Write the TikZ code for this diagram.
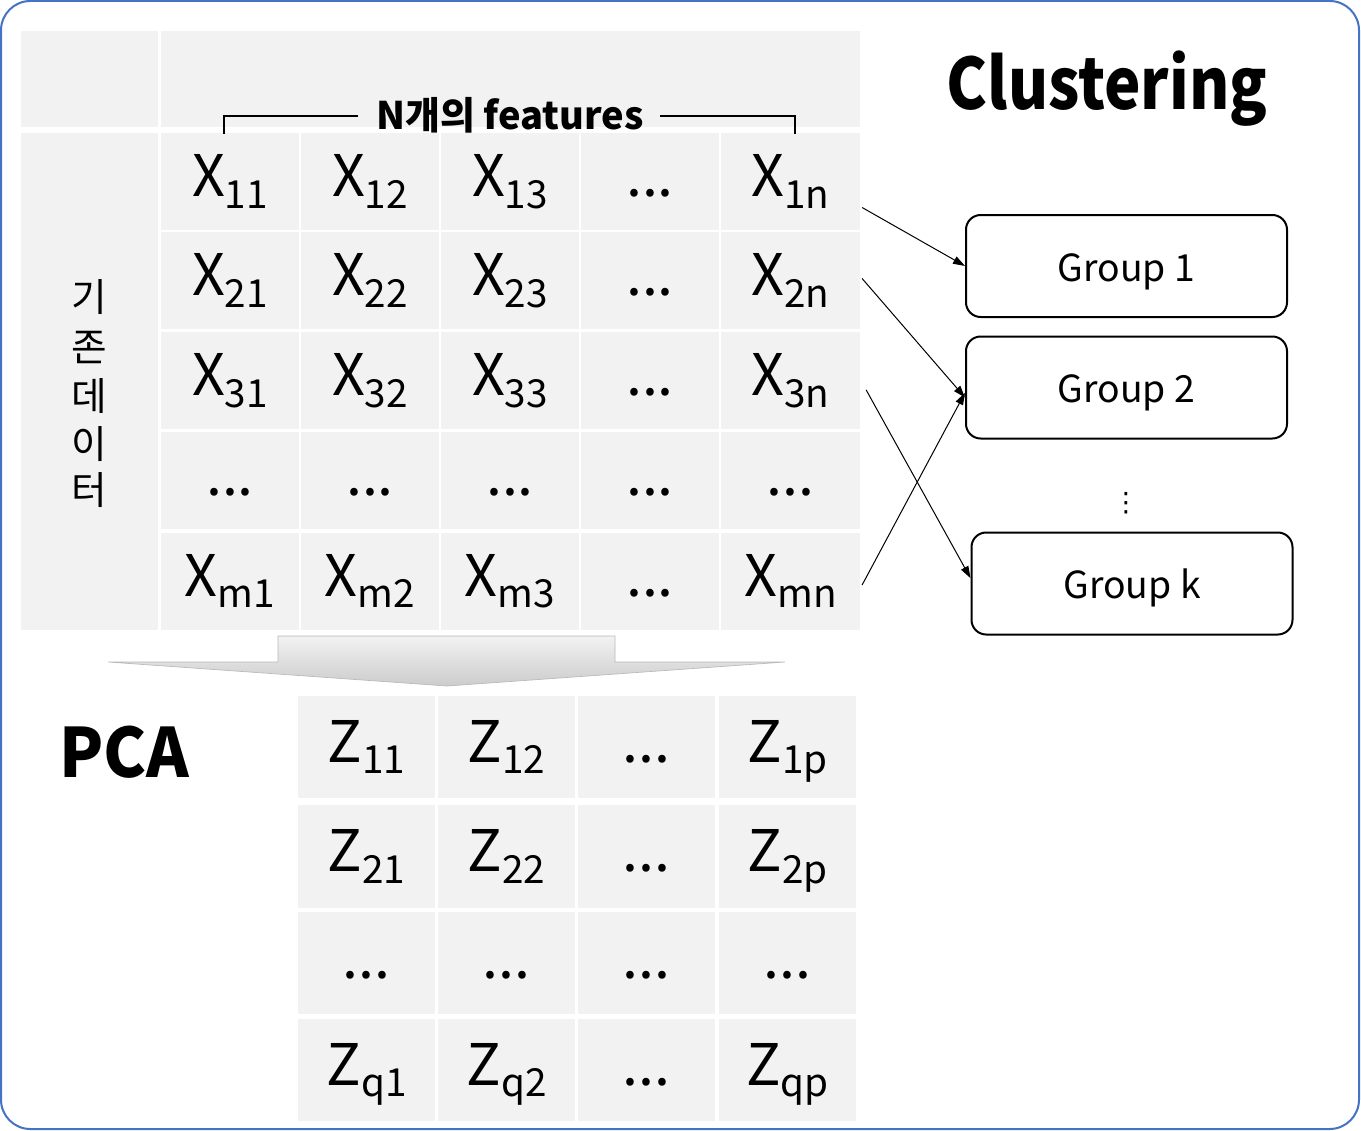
\documentclass[tikz,border=0pt]{standalone}
\usepackage{fontspec}
\setmainfont{Noto Sans CJK KR}
\newfontfamily\titlefont[FakeStretch=0.87]{Noto Sans CJK KR}
\newfontfamily\pcafont[FakeStretch=0.95]{Noto Sans CJK KR}
\newfontfamily\symfont{DejaVu Sans}
\usetikzlibrary{arrows.meta}
\definecolor{cellgray}{HTML}{F2F2F2}
\definecolor{frameblue}{HTML}{4472C4}
\newcommand\xsym[2]{#1\raisebox{-8.5pt}{\fontsize{29pt}{29pt}\selectfont #2}}
\tikzset{
  cellbase/.style={fill=cellgray, draw=none, inner sep=0pt, text height=23pt, text depth=0pt,
    font=\fontsize{43pt}{43pt}\selectfont},
  xcell/.style={cellbase, minimum width=104pt, minimum height=72.75pt},
  zcell/.style={cellbase, minimum width=103pt, minimum height=77pt},
  grp/.style={draw=black, line width=1.5pt, rounded corners=11pt, fill=white,
    minimum width=240.75pt, minimum height=76.5pt, inner sep=0pt, text height=22.5pt, text depth=0pt,
    font=\fontsize{28pt}{28pt}\selectfont},
  conn/.style={draw=black, line width=0.75pt, -{Triangle[length=9pt,width=6pt]}},
  kor/.style={inner sep=0pt, font=\fontsize{29pt}{29pt}\selectfont},
}
\begin{document}
\begin{tikzpicture}[x=0.75pt,y=-0.75pt]
\useasboundingbox (0,0) rectangle (1361,1131);
\draw[frameblue, line width=1.5pt, rounded corners=22pt] (1,1) rectangle (1359,1129);

% header
\fill[cellgray] (21,31) rectangle (158,127);
\fill[cellgray] (161,31) rectangle (860,127);
\fill[cellgray] (21,133) rectangle (158,630);

% X cells
\foreach \r/\cy/\rs in {1/181.5/1,2/280.5/2,3/380.5/3,5/581/m}{
  \foreach \c/\cx/\cs in {1/230/1,2/370/2,3/510/3,5/790.5/n}{
    \node[xcell] (x-\r-\c) at (\cx,\cy) {\xsym{X}{\rs\cs}};
  }
  \node[xcell] (x-\r-4) at (650,\cy) {...};
}
\foreach \c/\cx in {1/230,2/370,3/510,4/650,5/790.5}{
  \node[xcell] (x-4-\c) at (\cx,480.5) {...};
}

% Korean vertical label
\node[kor] (k1) at (89,297) {기};
\node[kor] (k2) at (89,347) {존};
\node[kor] (k3) at (89,396) {데};
\node[kor] (k4) at (89,444) {이};
\node[kor] (k5) at (89,490) {터};

% features bracket
\node[anchor=base, inner sep=0pt, font=\fontsize{28.5pt}{28.5pt}\selectfont\bfseries] (feat) at (510,129) {N개의 features};
\draw[line width=1.5pt] (224,134) -- (224,116) -- (358,116);
\draw[line width=1.5pt] (660,116) -- (795,116) -- (795,134);

% Title
\node[anchor=base, inner sep=0pt, font=\fontsize{53pt}{53pt}\titlefont\bfseries] (title) at (1107,110) {Clustering};
\node[anchor=base, inner sep=0pt, font=\fontsize{51pt}{51pt}\pcafont\bfseries] (pca) at (124.5,777) {PCA};

% big arrow
\draw[draw=gray!55, line width=0.5pt, top color=gray!10, bottom color=gray!40]
  (278,636) -- (615,636) -- (615,662) -- (785,662) -- (447,686) -- (108,662) -- (278,662) -- cycle;

% Z cells
\foreach \r/\cy/\rs in {1/747/1,2/856.5/2,4/1070/q}{
  \foreach \c/\cx/\cs in {1/366.5/1,2/506.5/2,4/787.5/p}{
    \node[zcell] (z-\r-\c) at (\cx,\cy) {\xsym{Z}{\rs\cs}};
  }
  \node[zcell] (z-\r-3) at (646.5,\cy) {...};
}
\foreach \c/\cx in {1/366.5,2/506.5,3/646.5,4/787.5}{
  \node[zcell] (z-3-\c) at (\cx,963) {...};
}

% groups
\node[grp] (g1) at (1126.5,266) {Group 1};
\node[grp] (g2) at (1126.5,387.5) {Group 2};
\node[grp] (gk) at (1132,583.5) {Group k};
\node[inner sep=0pt, font=\fontsize{20pt}{20pt}\symfont] (vd) at (1126,503) {⋮};

% connectors
\draw[conn] ([xshift=1.5pt,yshift=-19.5pt]x-1-5.east) -- (g1.west);
\draw[conn] ([xshift=1.5pt,yshift=1.5pt]x-2-5.east) -- ([yshift=-7.5pt]g2.west);
\draw[conn] ([xshift=4.5pt,yshift=-7pt]x-3-5.east) -- ([yshift=4pt]gk.west);
\draw[conn] ([xshift=1.5pt,yshift=-3pt]x-5-5.east) -- ([yshift=-4pt]g2.west);
\end{tikzpicture}
\end{document}
